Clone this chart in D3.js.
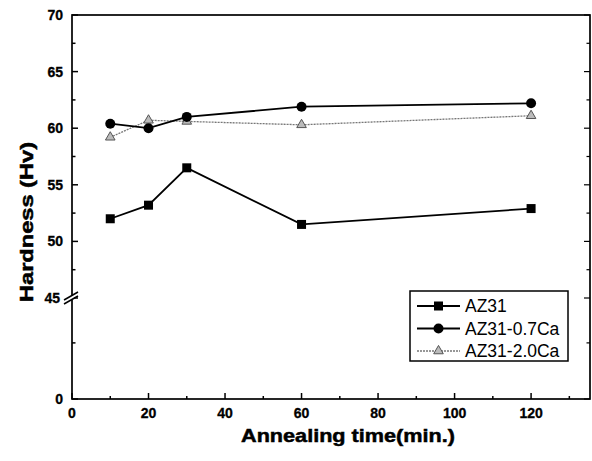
<!DOCTYPE html>
<html><head><meta charset="utf-8">
<script src="https://cdn.jsdelivr.net/npm/d3@7"></script>
<style>body{margin:0;background:#fff}svg{display:block}text{font-family:"Liberation Sans",Arial,sans-serif}</style>
</head><body><svg id="c" width="592" height="461"></svg>
<script>
const times = [10, 20, 30, 60, 120];
const az31 = [52.0, 53.2, 56.5, 51.5, 52.9];
const az31_07Ca = [60.4, 60.0, 61.0, 61.9, 62.2];
const az31_20Ca = [59.2, 60.7, 60.6, 60.3, 61.1];
const seriesNames = ["AZ31", "AZ31-0.7Ca", "AZ31-2.0Ca"];
const xTicks = [0, 20, 40, 60, 80, 100, 120];
const xMinor = [10, 30, 50, 70, 90, 110, 130];
const yTicks = [0, 45, 50, 55, 60, 65, 70];
const yMinor = [25, 47.5, 52.5, 57.5, 62.5, 67.5];

const svg = d3.select("#c");
const L = 72, R = 590, T = 15, B = 399;
const x = d3.scaleLinear().domain([0, 135.4]).range([L, R]);
const y = d3.scaleLinear().domain([0, 45, 70]).range([B, 298, T]);

// frame
svg.append("rect").attr("x", L).attr("y", T).attr("width", R - L).attr("height", B - T)
  .attr("fill", "none").attr("stroke", "#000").attr("stroke-width", 1.7);

const g = svg.append("g");
xTicks.forEach(t => {
  g.append("line").attr("x1", x(t)).attr("x2", x(t)).attr("y1", B).attr("y2", B - 6).attr("stroke", "#000").attr("stroke-width", 1.5);
  g.append("text").attr("x", x(t)).attr("y", B + 19).attr("text-anchor", "middle")
    .attr("font-size", 14).attr("font-weight", "bold").attr("stroke", "#000").attr("stroke-width", 0.3).text(t);
});
xMinor.forEach(t => {
  g.append("line").attr("x1", x(t)).attr("x2", x(t)).attr("y1", B).attr("y2", B - 3).attr("stroke", "#000").attr("stroke-width", 1.5);
});
yTicks.forEach(t => {
  g.append("line").attr("x1", L).attr("x2", L + 6).attr("y1", y(t)).attr("y2", y(t)).attr("stroke", "#000").attr("stroke-width", 1.5);
  g.append("line").attr("x1", R).attr("x2", R - 6).attr("y1", y(t)).attr("y2", y(t)).attr("stroke", "#000").attr("stroke-width", 1.2);
  g.append("text").attr("x", t === 45 ? L - 12 : L - 9).attr("y", y(t) + 5).attr("text-anchor", "end")
    .attr("font-size", 14).attr("font-weight", "bold").attr("stroke", "#000").attr("stroke-width", 0.3).text(t);
});
yMinor.forEach(t => {
  g.append("line").attr("x1", L).attr("x2", L + 3.5).attr("y1", y(t)).attr("y2", y(t)).attr("stroke", "#000").attr("stroke-width", 1.5);
  g.append("line").attr("x1", R).attr("x2", R - 3.5).attr("y1", y(t)).attr("y2", y(t)).attr("stroke", "#000").attr("stroke-width", 1.2);
});
const yb = y(45);
g.append("rect").attr("x", L - 2).attr("y", yb - 2).attr("width", 4).attr("height", 4).attr("fill", "#fff");
[-2, 2].forEach(d => {
  g.append("line").attr("x1", L - 8).attr("x2", L + 6).attr("y1", yb + d + 4).attr("y2", yb + d - 4)
    .attr("stroke", "#000").attr("stroke-width", 1.5);
});

svg.append("text").attr("x", 348).attr("y", 442).attr("text-anchor", "middle")
  .attr("font-size", 19).attr("font-weight", "bold").attr("stroke", "#000").attr("stroke-width", 0.5)
  .attr("textLength", 214).attr("lengthAdjust", "spacingAndGlyphs").text("Annealing time(min.)");
svg.append("text").attr("transform", "translate(33,222) rotate(-90)").attr("text-anchor", "middle")
  .attr("font-size", 19).attr("font-weight", "bold").attr("stroke", "#000").attr("stroke-width", 0.5)
  .attr("textLength", 160).attr("lengthAdjust", "spacingAndGlyphs").text("Hardness (Hv)");

const series = [
  {name: seriesNames[0], vals: az31, color: "#000", dash: null, w: 1.8, shape: "square"},
  {name: seriesNames[1], vals: az31_07Ca, color: "#000", dash: null, w: 1.8, shape: "circle"},
  {name: seriesNames[2], vals: az31_20Ca, color: "#777", dash: "2,1", w: 1.3, shape: "triangle"}
];
const line = d3.line().x(d => x(d[0])).y(d => y(d[1]));
function marker(sel, shape, cx, cy, color) {
  if (shape === "square") sel.append("rect").attr("x", cx - 4.5).attr("y", cy - 4.5).attr("width", 9).attr("height", 9).attr("fill", color);
  else if (shape === "circle") sel.append("circle").attr("cx", cx).attr("cy", cy).attr("r", 5).attr("fill", color);
  else sel.append("path").attr("d", d3.symbol().type(d3.symbolTriangle).size(40)()).attr("transform", `translate(${cx},${cy})`)
    .attr("fill", "#bbb").attr("stroke", "#555").attr("stroke-width", 1);
}
[series[2], series[0], series[1]].forEach(s => {
  const pts = times.map((t, i) => [t, s.vals[i]]);
  svg.append("path").attr("d", line(pts)).attr("fill", "none").attr("stroke", s.color)
    .attr("stroke-width", s.w).attr("stroke-dasharray", s.dash);
  pts.forEach(p => marker(svg, s.shape, x(p[0]), y(p[1]), s.color));
});

const lg = svg.append("g");
lg.append("rect").attr("x", 410).attr("y", 291).attr("width", 158).attr("height", 70)
  .attr("fill", "#fff").attr("stroke", "#000").attr("stroke-width", 1.5);
series.forEach((s, i) => {
  const ly = 306 + i * 22.5;
  lg.append("line").attr("x1", 417).attr("x2", 460).attr("y1", ly).attr("y2", ly)
    .attr("stroke", s.color).attr("stroke-width", s.w).attr("stroke-dasharray", s.dash);
  marker(lg, s.shape, 438.5, ly, s.color);
  lg.append("text").attr("x", 465).attr("y", ly + 6).attr("font-size", 17.5).text(s.name);
});
</script></body></html>
